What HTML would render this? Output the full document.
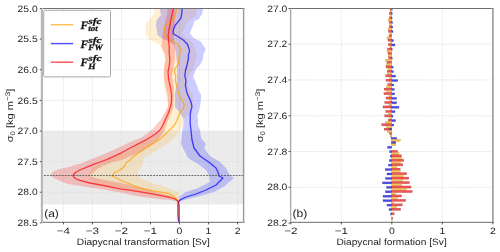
<!DOCTYPE html><html><head><meta charset="utf-8"><style>html,body{margin:0;padding:0;background:#fff;overflow:hidden}body{position:relative;width:500px;height:252px}svg{display:block;position:absolute;left:0;top:0}.fg{will-change:transform}text{text-rendering:geometricPrecision}</style></head><body><svg width="500" height="252" viewBox="0 0 500 252">
<rect x="0" y="0" width="500" height="252" fill="#fff"/>
<defs><clipPath id="ca"><rect x="41.5" y="8.4" width="202.1" height="213.6"/></clipPath><clipPath id="cb"><rect x="290.8" y="8.4" width="202.0" height="213.6"/></clipPath></defs>
<g clip-path="url(#ca)">
<rect x="41.5" y="131.2" width="202.1" height="73.20" fill="#ebebeb"/>
<line x1="63.38" y1="8.4" x2="63.38" y2="222.0" stroke="#dcdcdc" stroke-width="0.7" stroke-dasharray="1.8,1"/>
<line x1="92.41" y1="8.4" x2="92.41" y2="222.0" stroke="#dcdcdc" stroke-width="0.7" stroke-dasharray="1.8,1"/>
<line x1="121.44" y1="8.4" x2="121.44" y2="222.0" stroke="#dcdcdc" stroke-width="0.7" stroke-dasharray="1.8,1"/>
<line x1="150.47" y1="8.4" x2="150.47" y2="222.0" stroke="#dcdcdc" stroke-width="0.7" stroke-dasharray="1.8,1"/>
<line x1="179.50" y1="8.4" x2="179.50" y2="222.0" stroke="#dcdcdc" stroke-width="0.7" stroke-dasharray="1.8,1"/>
<line x1="208.53" y1="8.4" x2="208.53" y2="222.0" stroke="#dcdcdc" stroke-width="0.7" stroke-dasharray="1.8,1"/>
<line x1="237.56" y1="8.4" x2="237.56" y2="222.0" stroke="#dcdcdc" stroke-width="0.7" stroke-dasharray="1.8,1"/>
<line x1="41.5" y1="39.12" x2="243.6" y2="39.12" stroke="#dcdcdc" stroke-width="0.7" stroke-dasharray="1.8,1"/>
<line x1="41.5" y1="69.75" x2="243.6" y2="69.75" stroke="#dcdcdc" stroke-width="0.7" stroke-dasharray="1.8,1"/>
<line x1="41.5" y1="100.38" x2="243.6" y2="100.38" stroke="#dcdcdc" stroke-width="0.7" stroke-dasharray="1.8,1"/>
<line x1="41.5" y1="131.00" x2="243.6" y2="131.00" stroke="#dcdcdc" stroke-width="0.7" stroke-dasharray="1.8,1"/>
<line x1="41.5" y1="161.62" x2="243.6" y2="161.62" stroke="#dcdcdc" stroke-width="0.7" stroke-dasharray="1.8,1"/>
<line x1="41.5" y1="192.25" x2="243.6" y2="192.25" stroke="#dcdcdc" stroke-width="0.7" stroke-dasharray="1.8,1"/>
<path d="M154.0,8.4 L153.3,15.0 L148.4,20.0 L145.6,25.0 L145.6,30.0 L145.6,35.0 L150.0,40.0 L153.6,42.0 L160.0,45.0 L162.0,50.0 L164.0,55.0 L165.0,60.0 L164.0,65.0 L163.8,77.0 L163.8,85.0 L166.0,95.0 L167.0,101.0 L168.0,107.0 L166.0,113.0 L164.0,119.0 L162.0,125.0 L161.5,130.0 L157.5,134.0 L152.4,137.2 L147.0,140.4 L141.6,143.2 L137.0,145.6 L132.0,148.0 L127.2,150.7 L122.4,153.4 L115.8,156.4 L109.2,159.4 L102.0,162.0 L97.0,164.2 L92.0,168.0 L90.0,172.0 L88.0,176.0 L91.0,180.0 L97.0,183.0 L110.0,186.0 L126.0,189.0 L141.0,192.0 L156.0,195.0 L170.0,197.5 L177.0,200.0 L178.8,202.0 L179.0,203.0 L179.5,196.0 L178.5,192.0 L170.0,188.8 L160.0,185.0 L154.0,183.5 L148.0,181.5 L142.0,179.0 L139.2,176.6 L138.0,172.0 L142.0,166.0 L144.0,158.0 L154.0,152.0 L170.0,142.0 L176.0,136.0 L180.0,130.0 L183.6,125.0 L183.6,119.0 L189.6,114.0 L192.0,108.0 L192.6,101.0 L193.2,95.0 L189.0,89.0 L187.2,82.0 L188.4,77.0 L192.0,71.0 L194.4,65.0 L195.6,60.2 L196.8,53.0 L195.0,48.2 L194.0,46.0 L190.9,41.3 L186.1,38.2 L182.1,33.4 L185.3,27.0 L187.0,22.3 L195.6,16.0 L197.2,10.4 L197.2,8.4Z" fill="#ffa500" fill-opacity="0.17"/>
<path d="M159.6,8.4 L161.0,15.0 L156.8,20.0 L156.0,25.0 L156.8,30.0 L157.5,35.0 L162.0,38.6 L168.0,41.0 L174.0,45.0 L176.0,53.0 L177.0,65.0 L177.0,77.0 L175.8,89.0 L174.6,95.0 L175.0,101.0 L175.0,107.0 L180.0,113.0 L183.6,119.0 L183.6,125.0 L182.4,130.0 L181.0,144.0 L183.0,148.0 L188.0,158.0 L198.0,164.0 L206.0,170.0 L209.0,176.0 L210.0,182.0 L198.0,188.0 L186.0,192.0 L180.0,196.0 L179.0,200.0 L178.8,202.0 L179.5,202.0 L184.0,200.0 L200.0,196.0 L214.0,192.0 L225.0,186.0 L228.0,183.0 L232.0,180.0 L234.0,178.0 L231.0,176.0 L228.5,173.0 L226.0,168.0 L220.0,162.0 L210.0,156.0 L204.0,148.0 L206.0,144.0 L201.0,138.0 L200.0,130.0 L198.0,125.0 L198.0,120.2 L197.4,115.4 L199.2,110.6 L200.4,104.6 L201.0,98.6 L201.0,95.0 L198.0,89.0 L195.6,81.8 L193.2,77.0 L195.6,69.8 L200.0,65.0 L203.0,59.0 L203.4,54.2 L205.8,49.4 L203.6,46.0 L200.4,41.3 L194.0,38.2 L190.0,33.4 L190.9,30.2 L193.3,25.5 L194.0,21.5 L198.8,19.1 L202.0,14.3 L202.8,10.4 L202.8,8.4Z" fill="#0000ff" fill-opacity="0.2"/>
<path d="M167.5,8.4 L167.0,15.0 L165.5,20.0 L164.5,25.0 L163.5,30.0 L162.5,35.0 L162.0,41.0 L161.4,47.0 L164.4,53.0 L165.6,59.0 L164.4,65.0 L163.8,72.0 L163.8,77.0 L165.6,87.0 L167.5,95.0 L168.0,101.0 L168.0,107.0 L164.4,113.0 L160.4,120.0 L156.0,125.0 L151.6,130.0 L142.0,137.2 L130.0,142.0 L120.4,146.8 L107.2,152.8 L100.0,155.8 L91.6,159.0 L82.0,163.0 L70.0,166.4 L60.0,169.0 L52.0,172.0 L51.0,176.0 L54.0,178.0 L60.0,181.0 L68.0,184.0 L80.0,186.0 L100.0,189.0 L120.0,192.6 L139.0,196.5 L158.0,199.0 L170.0,200.0 L176.0,201.0 L178.5,203.0 L179.0,203.0 L179.0,201.0 L176.0,198.0 L168.0,195.0 L156.0,192.0 L142.0,188.0 L126.0,184.0 L105.0,180.0 L95.0,178.0 L90.0,176.0 L94.0,172.0 L97.6,168.8 L103.6,165.8 L112.0,162.2 L121.6,160.0 L136.0,154.0 L144.4,149.8 L152.8,144.4 L160.0,137.2 L165.0,130.0 L166.5,125.0 L168.0,120.0 L171.6,113.0 L173.4,107.0 L173.4,101.0 L174.0,95.0 L174.0,87.0 L172.2,77.0 L172.8,72.0 L174.0,65.0 L175.0,59.0 L175.2,53.0 L175.0,47.0 L174.0,41.0 L173.5,35.0 L174.0,30.0 L174.5,25.0 L175.0,20.0 L175.5,15.0 L175.0,8.4Z" fill="#ff0000" fill-opacity="0.2"/>
<path d="M176.8,8.4 L175.6,13.4 L174.4,18.2 L169.6,23.0 L164.8,26.6 L163.6,32.6 L164.4,35.0 L168.0,38.6 L172.8,41.0 L177.6,44.6 L181.2,49.4 L180.0,53.0 L178.8,56.6 L179.4,60.2 L177.5,65.0 L175.2,68.6 L174.6,72.2 L175.8,75.8 L175.2,80.6 L177.6,89.0 L179.0,95.0 L181.8,99.8 L184.2,104.6 L183.6,108.2 L180.6,111.8 L178.8,115.4 L177.0,120.2 L174.6,125.0 L170.0,129.6 L164.0,135.6 L158.0,140.4 L152.0,144.0 L144.8,148.8 L140.0,152.0 L134.0,156.0 L130.0,160.0 L126.0,163.0 L124.0,167.0 L120.0,170.0 L114.0,173.0 L112.0,176.0 L116.0,177.5 L120.0,180.0 L127.7,183.0 L136.6,186.9 L152.0,190.7 L168.6,193.3 L173.8,196.5 L177.0,199.7 L178.5,202.0 L178.8,222.0" fill="none" stroke="#ffa500" stroke-opacity="0.75" stroke-width="1.3" stroke-linejoin="round"/>
<path d="M182.2,8.4 L181.6,14.6 L181.0,18.2 L178.0,21.8 L175.0,25.5 L173.2,30.2 L173.2,33.8 L176.6,35.8 L183.0,39.7 L187.7,44.5 L188.4,47.0 L189.6,50.6 L188.4,55.4 L188.4,59.0 L187.0,65.0 L185.4,71.0 L184.8,75.8 L186.0,80.6 L185.4,85.4 L186.6,91.4 L187.8,95.0 L189.6,98.6 L191.4,103.4 L192.0,107.0 L190.8,110.6 L190.2,115.4 L190.2,120.2 L190.3,125.0 L191.0,130.0 L192.0,140.0 L194.0,148.0 L200.0,156.0 L210.0,163.0 L216.0,168.0 L218.0,172.0 L219.0,176.0 L223.0,178.0 L216.0,185.0 L206.0,190.0 L196.0,194.0 L186.0,197.0 L180.0,200.0 L178.3,202.0 L177.9,205.0 L177.9,215.0 L178.7,222.0" fill="none" stroke="#0000ff" stroke-opacity="0.7" stroke-width="1.3" stroke-linejoin="round"/>
<path d="M173.4,8.4 L172.0,15.0 L170.8,20.0 L170.0,25.0 L169.0,30.0 L168.2,35.0 L168.6,41.0 L169.2,47.0 L169.2,53.0 L169.8,59.0 L169.4,65.0 L168.0,72.0 L168.6,79.0 L170.4,87.0 L171.6,95.0 L171.6,101.0 L170.4,107.0 L168.0,114.0 L165.6,119.0 L163.0,125.0 L160.0,130.0 L155.5,134.0 L150.4,137.2 L145.0,140.4 L139.6,143.2 L135.0,145.6 L130.0,148.0 L125.2,150.7 L120.4,153.4 L113.8,156.4 L107.2,159.4 L100.0,162.0 L94.0,164.2 L85.6,167.6 L80.0,170.0 L75.5,172.5 L73.0,175.5 L74.0,177.5 L77.0,179.3 L80.0,180.4 L90.0,183.0 L106.0,186.0 L120.0,188.8 L132.8,190.7 L152.0,193.9 L168.6,197.1 L175.0,199.0 L177.6,201.0 L178.8,203.0 L179.3,206.0 L179.3,222.0" fill="none" stroke="#ff0000" stroke-opacity="0.7" stroke-width="1.3" stroke-linejoin="round"/>
<line x1="41.5" y1="175.5" x2="243.6" y2="175.5" stroke="#4a4a4a" stroke-width="0.8" stroke-dasharray="1.9,1.05" stroke-dashoffset="0.5"/>
</g>
<g clip-path="url(#cb)">
<line x1="290.80" y1="8.4" x2="290.80" y2="222.0" stroke="#dcdcdc" stroke-width="0.7" stroke-dasharray="1.8,1"/>
<line x1="341.30" y1="8.4" x2="341.30" y2="222.0" stroke="#dcdcdc" stroke-width="0.7" stroke-dasharray="1.8,1"/>
<line x1="391.80" y1="8.4" x2="391.80" y2="222.0" stroke="#dcdcdc" stroke-width="0.7" stroke-dasharray="1.8,1"/>
<line x1="442.30" y1="8.4" x2="442.30" y2="222.0" stroke="#dcdcdc" stroke-width="0.7" stroke-dasharray="1.8,1"/>
<line x1="492.80" y1="8.4" x2="492.80" y2="222.0" stroke="#dcdcdc" stroke-width="0.7" stroke-dasharray="1.8,1"/>
<line x1="290.8" y1="44.21" x2="492.8" y2="44.21" stroke="#dcdcdc" stroke-width="0.7" stroke-dasharray="1.8,1"/>
<line x1="290.8" y1="79.98" x2="492.8" y2="79.98" stroke="#dcdcdc" stroke-width="0.7" stroke-dasharray="1.8,1"/>
<line x1="290.8" y1="115.76" x2="492.8" y2="115.76" stroke="#dcdcdc" stroke-width="0.7" stroke-dasharray="1.8,1"/>
<line x1="290.8" y1="151.53" x2="492.8" y2="151.53" stroke="#dcdcdc" stroke-width="0.7" stroke-dasharray="1.8,1"/>
<line x1="290.8" y1="187.30" x2="492.8" y2="187.30" stroke="#dcdcdc" stroke-width="0.7" stroke-dasharray="1.8,1"/>
<rect x="390.30" y="7.95" width="1.50" height="2.20" fill="#f05454" stroke="#902020" stroke-width="0.35" stroke-opacity="0.6"/>
<rect x="391.80" y="8.35" width="0.50" height="2.00" fill="#4a4aea" stroke="#202090" stroke-width="0.35" stroke-opacity="0.6"/>
<rect x="390.00" y="10.15" width="1.80" height="2.25" fill="#f8c262" stroke="#a07020" stroke-width="0.35" stroke-opacity="0.6"/>
<rect x="389.20" y="12.40" width="2.60" height="2.20" fill="#f05454" stroke="#902020" stroke-width="0.35" stroke-opacity="0.6"/>
<rect x="391.80" y="12.80" width="0.50" height="2.00" fill="#4a4aea" stroke="#202090" stroke-width="0.35" stroke-opacity="0.6"/>
<rect x="390.30" y="14.60" width="1.50" height="2.25" fill="#f8c262" stroke="#a07020" stroke-width="0.35" stroke-opacity="0.6"/>
<rect x="389.30" y="16.85" width="2.50" height="2.20" fill="#f05454" stroke="#902020" stroke-width="0.35" stroke-opacity="0.6"/>
<rect x="391.80" y="17.25" width="0.30" height="2.00" fill="#4a4aea" stroke="#202090" stroke-width="0.35" stroke-opacity="0.6"/>
<rect x="388.00" y="19.05" width="3.80" height="2.25" fill="#f8c262" stroke="#a07020" stroke-width="0.35" stroke-opacity="0.6"/>
<rect x="389.30" y="21.30" width="2.50" height="2.20" fill="#f05454" stroke="#902020" stroke-width="0.35" stroke-opacity="0.6"/>
<rect x="391.80" y="21.70" width="0.80" height="2.00" fill="#4a4aea" stroke="#202090" stroke-width="0.35" stroke-opacity="0.6"/>
<rect x="389.80" y="23.50" width="2.00" height="2.25" fill="#f8c262" stroke="#a07020" stroke-width="0.35" stroke-opacity="0.6"/>
<rect x="389.30" y="25.75" width="2.50" height="2.20" fill="#f05454" stroke="#902020" stroke-width="0.35" stroke-opacity="0.6"/>
<rect x="391.80" y="26.15" width="1.00" height="2.00" fill="#4a4aea" stroke="#202090" stroke-width="0.35" stroke-opacity="0.6"/>
<rect x="388.00" y="27.95" width="3.80" height="2.25" fill="#f8c262" stroke="#a07020" stroke-width="0.35" stroke-opacity="0.6"/>
<rect x="388.50" y="30.20" width="3.30" height="2.20" fill="#f05454" stroke="#902020" stroke-width="0.35" stroke-opacity="0.6"/>
<rect x="391.80" y="30.60" width="1.20" height="2.00" fill="#4a4aea" stroke="#202090" stroke-width="0.35" stroke-opacity="0.6"/>
<rect x="390.00" y="32.40" width="1.80" height="2.25" fill="#f8c262" stroke="#a07020" stroke-width="0.35" stroke-opacity="0.6"/>
<rect x="389.00" y="34.65" width="2.80" height="2.20" fill="#f05454" stroke="#902020" stroke-width="0.35" stroke-opacity="0.6"/>
<rect x="387.00" y="36.85" width="4.80" height="2.25" fill="#f8c262" stroke="#a07020" stroke-width="0.35" stroke-opacity="0.6"/>
<rect x="388.00" y="39.10" width="3.80" height="2.20" fill="#f05454" stroke="#902020" stroke-width="0.35" stroke-opacity="0.6"/>
<rect x="391.80" y="39.50" width="1.70" height="2.00" fill="#4a4aea" stroke="#202090" stroke-width="0.35" stroke-opacity="0.6"/>
<rect x="390.50" y="41.30" width="1.30" height="2.25" fill="#f8c262" stroke="#a07020" stroke-width="0.35" stroke-opacity="0.6"/>
<rect x="388.20" y="43.55" width="3.60" height="2.20" fill="#f05454" stroke="#902020" stroke-width="0.35" stroke-opacity="0.6"/>
<rect x="391.80" y="43.95" width="3.20" height="2.00" fill="#4a4aea" stroke="#202090" stroke-width="0.35" stroke-opacity="0.6"/>
<rect x="390.00" y="45.75" width="1.80" height="2.25" fill="#f8c262" stroke="#a07020" stroke-width="0.35" stroke-opacity="0.6"/>
<rect x="387.50" y="48.00" width="4.30" height="2.20" fill="#f05454" stroke="#902020" stroke-width="0.35" stroke-opacity="0.6"/>
<rect x="391.80" y="48.40" width="0.50" height="2.00" fill="#4a4aea" stroke="#202090" stroke-width="0.35" stroke-opacity="0.6"/>
<rect x="387.00" y="50.20" width="4.80" height="2.25" fill="#f8c262" stroke="#a07020" stroke-width="0.35" stroke-opacity="0.6"/>
<rect x="388.00" y="52.45" width="3.80" height="2.20" fill="#f05454" stroke="#902020" stroke-width="0.35" stroke-opacity="0.6"/>
<rect x="388.20" y="54.65" width="3.60" height="2.25" fill="#f8c262" stroke="#a07020" stroke-width="0.35" stroke-opacity="0.6"/>
<rect x="388.70" y="56.90" width="3.10" height="2.20" fill="#f05454" stroke="#902020" stroke-width="0.35" stroke-opacity="0.6"/>
<rect x="391.80" y="57.30" width="0.50" height="2.00" fill="#4a4aea" stroke="#202090" stroke-width="0.35" stroke-opacity="0.6"/>
<rect x="385.40" y="59.10" width="6.40" height="2.25" fill="#f8c262" stroke="#a07020" stroke-width="0.35" stroke-opacity="0.6"/>
<rect x="387.00" y="61.35" width="4.80" height="2.20" fill="#f05454" stroke="#902020" stroke-width="0.35" stroke-opacity="0.6"/>
<rect x="386.30" y="63.55" width="5.50" height="2.25" fill="#f8c262" stroke="#a07020" stroke-width="0.35" stroke-opacity="0.6"/>
<rect x="386.00" y="65.80" width="5.80" height="2.20" fill="#f05454" stroke="#902020" stroke-width="0.35" stroke-opacity="0.6"/>
<rect x="391.80" y="66.20" width="1.40" height="2.00" fill="#4a4aea" stroke="#202090" stroke-width="0.35" stroke-opacity="0.6"/>
<rect x="388.20" y="68.00" width="3.60" height="2.25" fill="#f8c262" stroke="#a07020" stroke-width="0.35" stroke-opacity="0.6"/>
<rect x="387.20" y="70.25" width="4.60" height="2.20" fill="#f05454" stroke="#902020" stroke-width="0.35" stroke-opacity="0.6"/>
<rect x="391.80" y="70.65" width="1.70" height="2.00" fill="#4a4aea" stroke="#202090" stroke-width="0.35" stroke-opacity="0.6"/>
<rect x="387.50" y="72.45" width="4.30" height="2.25" fill="#f8c262" stroke="#a07020" stroke-width="0.35" stroke-opacity="0.6"/>
<rect x="385.80" y="74.70" width="6.00" height="2.20" fill="#f05454" stroke="#902020" stroke-width="0.35" stroke-opacity="0.6"/>
<rect x="391.80" y="75.10" width="3.80" height="2.00" fill="#4a4aea" stroke="#202090" stroke-width="0.35" stroke-opacity="0.6"/>
<rect x="389.40" y="76.90" width="2.40" height="2.25" fill="#f8c262" stroke="#a07020" stroke-width="0.35" stroke-opacity="0.6"/>
<rect x="386.00" y="79.15" width="5.80" height="2.20" fill="#f05454" stroke="#902020" stroke-width="0.35" stroke-opacity="0.6"/>
<rect x="391.80" y="79.55" width="6.00" height="2.00" fill="#4a4aea" stroke="#202090" stroke-width="0.35" stroke-opacity="0.6"/>
<rect x="389.80" y="81.35" width="2.00" height="2.25" fill="#f8c262" stroke="#a07020" stroke-width="0.35" stroke-opacity="0.6"/>
<rect x="387.80" y="83.60" width="4.00" height="2.20" fill="#f05454" stroke="#902020" stroke-width="0.35" stroke-opacity="0.6"/>
<rect x="391.80" y="84.00" width="2.00" height="2.00" fill="#4a4aea" stroke="#202090" stroke-width="0.35" stroke-opacity="0.6"/>
<rect x="386.60" y="85.80" width="5.20" height="2.25" fill="#f8c262" stroke="#a07020" stroke-width="0.35" stroke-opacity="0.6"/>
<rect x="384.20" y="88.05" width="7.60" height="2.20" fill="#f05454" stroke="#902020" stroke-width="0.35" stroke-opacity="0.6"/>
<rect x="391.80" y="88.45" width="2.60" height="2.00" fill="#4a4aea" stroke="#202090" stroke-width="0.35" stroke-opacity="0.6"/>
<rect x="386.60" y="90.25" width="5.20" height="2.25" fill="#f8c262" stroke="#a07020" stroke-width="0.35" stroke-opacity="0.6"/>
<rect x="383.90" y="92.50" width="7.90" height="2.20" fill="#f05454" stroke="#902020" stroke-width="0.35" stroke-opacity="0.6"/>
<rect x="391.80" y="92.90" width="2.90" height="2.00" fill="#4a4aea" stroke="#202090" stroke-width="0.35" stroke-opacity="0.6"/>
<rect x="389.00" y="94.70" width="2.80" height="2.25" fill="#f8c262" stroke="#a07020" stroke-width="0.35" stroke-opacity="0.6"/>
<rect x="386.00" y="96.95" width="5.80" height="2.20" fill="#f05454" stroke="#902020" stroke-width="0.35" stroke-opacity="0.6"/>
<rect x="391.80" y="97.35" width="4.80" height="2.00" fill="#4a4aea" stroke="#202090" stroke-width="0.35" stroke-opacity="0.6"/>
<rect x="389.60" y="99.15" width="2.20" height="2.25" fill="#f8c262" stroke="#a07020" stroke-width="0.35" stroke-opacity="0.6"/>
<rect x="384.80" y="101.40" width="7.00" height="2.20" fill="#f05454" stroke="#902020" stroke-width="0.35" stroke-opacity="0.6"/>
<rect x="391.80" y="101.80" width="4.80" height="2.00" fill="#4a4aea" stroke="#202090" stroke-width="0.35" stroke-opacity="0.6"/>
<rect x="389.00" y="103.60" width="2.80" height="2.25" fill="#f8c262" stroke="#a07020" stroke-width="0.35" stroke-opacity="0.6"/>
<rect x="383.00" y="105.85" width="8.80" height="2.20" fill="#f05454" stroke="#902020" stroke-width="0.35" stroke-opacity="0.6"/>
<rect x="391.80" y="106.25" width="7.20" height="2.00" fill="#4a4aea" stroke="#202090" stroke-width="0.35" stroke-opacity="0.6"/>
<rect x="390.80" y="108.05" width="1.00" height="2.25" fill="#f8c262" stroke="#a07020" stroke-width="0.35" stroke-opacity="0.6"/>
<rect x="385.80" y="110.30" width="6.00" height="2.20" fill="#f05454" stroke="#902020" stroke-width="0.35" stroke-opacity="0.6"/>
<rect x="391.80" y="110.70" width="3.20" height="2.00" fill="#4a4aea" stroke="#202090" stroke-width="0.35" stroke-opacity="0.6"/>
<rect x="388.40" y="112.50" width="3.40" height="2.25" fill="#f8c262" stroke="#a07020" stroke-width="0.35" stroke-opacity="0.6"/>
<rect x="384.80" y="114.75" width="7.00" height="2.20" fill="#f05454" stroke="#902020" stroke-width="0.35" stroke-opacity="0.6"/>
<rect x="391.80" y="115.15" width="1.20" height="2.00" fill="#4a4aea" stroke="#202090" stroke-width="0.35" stroke-opacity="0.6"/>
<rect x="389.40" y="116.95" width="2.40" height="2.25" fill="#f8c262" stroke="#a07020" stroke-width="0.35" stroke-opacity="0.6"/>
<rect x="388.20" y="119.20" width="3.60" height="2.20" fill="#f05454" stroke="#902020" stroke-width="0.35" stroke-opacity="0.6"/>
<rect x="391.80" y="119.60" width="3.80" height="2.00" fill="#4a4aea" stroke="#202090" stroke-width="0.35" stroke-opacity="0.6"/>
<rect x="385.40" y="121.40" width="6.40" height="2.25" fill="#f8c262" stroke="#a07020" stroke-width="0.35" stroke-opacity="0.6"/>
<rect x="381.80" y="123.65" width="10.00" height="2.20" fill="#f05454" stroke="#902020" stroke-width="0.35" stroke-opacity="0.6"/>
<rect x="391.80" y="124.05" width="2.00" height="2.00" fill="#4a4aea" stroke="#202090" stroke-width="0.35" stroke-opacity="0.6"/>
<rect x="386.60" y="125.85" width="5.20" height="2.25" fill="#f8c262" stroke="#a07020" stroke-width="0.35" stroke-opacity="0.6"/>
<rect x="384.20" y="128.10" width="7.60" height="2.20" fill="#f05454" stroke="#902020" stroke-width="0.35" stroke-opacity="0.6"/>
<rect x="389.00" y="128.50" width="2.80" height="2.00" fill="#4a4aea" stroke="#202090" stroke-width="0.35" stroke-opacity="0.6"/>
<rect x="387.20" y="130.30" width="4.60" height="2.25" fill="#f8c262" stroke="#a07020" stroke-width="0.35" stroke-opacity="0.6"/>
<rect x="389.60" y="132.55" width="2.20" height="2.20" fill="#f05454" stroke="#902020" stroke-width="0.35" stroke-opacity="0.6"/>
<rect x="390.20" y="134.75" width="1.60" height="2.25" fill="#f8c262" stroke="#a07020" stroke-width="0.35" stroke-opacity="0.6"/>
<rect x="391.10" y="137.00" width="0.70" height="2.20" fill="#f05454" stroke="#902020" stroke-width="0.35" stroke-opacity="0.6"/>
<rect x="391.80" y="137.40" width="5.00" height="2.00" fill="#4a4aea" stroke="#202090" stroke-width="0.35" stroke-opacity="0.6"/>
<rect x="391.80" y="139.20" width="8.60" height="2.25" fill="#f8c262" stroke="#a07020" stroke-width="0.35" stroke-opacity="0.6"/>
<rect x="391.80" y="141.45" width="3.80" height="2.20" fill="#f05454" stroke="#902020" stroke-width="0.35" stroke-opacity="0.6"/>
<rect x="391.80" y="141.85" width="3.80" height="2.00" fill="#4a4aea" stroke="#202090" stroke-width="0.35" stroke-opacity="0.6"/>
<rect x="391.80" y="143.65" width="3.80" height="2.25" fill="#f8c262" stroke="#a07020" stroke-width="0.35" stroke-opacity="0.6"/>
<rect x="387.50" y="146.30" width="4.30" height="2.00" fill="#4a4aea" stroke="#202090" stroke-width="0.35" stroke-opacity="0.6"/>
<rect x="391.80" y="150.35" width="5.60" height="2.20" fill="#f05454" stroke="#902020" stroke-width="0.35" stroke-opacity="0.6"/>
<rect x="389.60" y="150.75" width="2.20" height="2.00" fill="#4a4aea" stroke="#202090" stroke-width="0.35" stroke-opacity="0.6"/>
<rect x="391.80" y="152.55" width="7.20" height="2.25" fill="#f8c262" stroke="#a07020" stroke-width="0.35" stroke-opacity="0.6"/>
<rect x="391.80" y="154.80" width="9.60" height="2.20" fill="#f05454" stroke="#902020" stroke-width="0.35" stroke-opacity="0.6"/>
<rect x="390.20" y="155.20" width="1.60" height="2.00" fill="#4a4aea" stroke="#202090" stroke-width="0.35" stroke-opacity="0.6"/>
<rect x="391.80" y="157.00" width="9.80" height="2.25" fill="#f8c262" stroke="#a07020" stroke-width="0.35" stroke-opacity="0.6"/>
<rect x="391.80" y="159.25" width="12.00" height="2.20" fill="#f05454" stroke="#902020" stroke-width="0.35" stroke-opacity="0.6"/>
<rect x="389.40" y="159.65" width="2.40" height="2.00" fill="#4a4aea" stroke="#202090" stroke-width="0.35" stroke-opacity="0.6"/>
<rect x="391.80" y="161.45" width="8.60" height="2.25" fill="#f8c262" stroke="#a07020" stroke-width="0.35" stroke-opacity="0.6"/>
<rect x="391.80" y="163.70" width="11.00" height="2.20" fill="#f05454" stroke="#902020" stroke-width="0.35" stroke-opacity="0.6"/>
<rect x="388.40" y="164.10" width="3.40" height="2.00" fill="#4a4aea" stroke="#202090" stroke-width="0.35" stroke-opacity="0.6"/>
<rect x="391.80" y="165.90" width="5.00" height="2.25" fill="#f8c262" stroke="#a07020" stroke-width="0.35" stroke-opacity="0.6"/>
<rect x="391.80" y="168.15" width="8.40" height="2.20" fill="#f05454" stroke="#902020" stroke-width="0.35" stroke-opacity="0.6"/>
<rect x="385.20" y="168.55" width="6.60" height="2.00" fill="#4a4aea" stroke="#202090" stroke-width="0.35" stroke-opacity="0.6"/>
<rect x="391.80" y="170.35" width="8.40" height="2.25" fill="#f8c262" stroke="#a07020" stroke-width="0.35" stroke-opacity="0.6"/>
<rect x="391.80" y="172.60" width="15.00" height="2.20" fill="#f05454" stroke="#902020" stroke-width="0.35" stroke-opacity="0.6"/>
<rect x="387.00" y="173.00" width="4.80" height="2.00" fill="#4a4aea" stroke="#202090" stroke-width="0.35" stroke-opacity="0.6"/>
<rect x="391.80" y="174.80" width="11.40" height="2.25" fill="#f8c262" stroke="#a07020" stroke-width="0.35" stroke-opacity="0.6"/>
<rect x="391.80" y="177.05" width="17.00" height="2.20" fill="#f05454" stroke="#902020" stroke-width="0.35" stroke-opacity="0.6"/>
<rect x="385.40" y="177.45" width="6.40" height="2.00" fill="#4a4aea" stroke="#202090" stroke-width="0.35" stroke-opacity="0.6"/>
<rect x="391.80" y="179.25" width="10.80" height="2.25" fill="#f8c262" stroke="#a07020" stroke-width="0.35" stroke-opacity="0.6"/>
<rect x="391.80" y="181.50" width="17.60" height="2.20" fill="#f05454" stroke="#902020" stroke-width="0.35" stroke-opacity="0.6"/>
<rect x="382.40" y="181.90" width="9.40" height="2.00" fill="#4a4aea" stroke="#202090" stroke-width="0.35" stroke-opacity="0.6"/>
<rect x="391.80" y="183.70" width="9.80" height="2.25" fill="#f8c262" stroke="#a07020" stroke-width="0.35" stroke-opacity="0.6"/>
<rect x="391.80" y="185.95" width="19.20" height="2.20" fill="#f05454" stroke="#902020" stroke-width="0.35" stroke-opacity="0.6"/>
<rect x="386.60" y="186.35" width="5.20" height="2.00" fill="#4a4aea" stroke="#202090" stroke-width="0.35" stroke-opacity="0.6"/>
<rect x="391.80" y="188.15" width="14.60" height="2.25" fill="#f8c262" stroke="#a07020" stroke-width="0.35" stroke-opacity="0.6"/>
<rect x="391.80" y="190.40" width="20.40" height="2.20" fill="#f05454" stroke="#902020" stroke-width="0.35" stroke-opacity="0.6"/>
<rect x="385.40" y="190.80" width="6.40" height="2.00" fill="#4a4aea" stroke="#202090" stroke-width="0.35" stroke-opacity="0.6"/>
<rect x="391.80" y="192.60" width="3.80" height="2.25" fill="#f8c262" stroke="#a07020" stroke-width="0.35" stroke-opacity="0.6"/>
<rect x="391.80" y="194.85" width="9.80" height="2.20" fill="#f05454" stroke="#902020" stroke-width="0.35" stroke-opacity="0.6"/>
<rect x="383.00" y="195.25" width="8.80" height="2.00" fill="#4a4aea" stroke="#202090" stroke-width="0.35" stroke-opacity="0.6"/>
<rect x="391.80" y="197.05" width="5.60" height="2.25" fill="#f8c262" stroke="#a07020" stroke-width="0.35" stroke-opacity="0.6"/>
<rect x="391.80" y="199.30" width="14.00" height="2.20" fill="#f05454" stroke="#902020" stroke-width="0.35" stroke-opacity="0.6"/>
<rect x="383.00" y="199.70" width="8.80" height="2.00" fill="#4a4aea" stroke="#202090" stroke-width="0.35" stroke-opacity="0.6"/>
<rect x="391.80" y="201.50" width="1.70" height="2.25" fill="#f8c262" stroke="#a07020" stroke-width="0.35" stroke-opacity="0.6"/>
<rect x="391.80" y="203.75" width="10.40" height="2.20" fill="#f05454" stroke="#902020" stroke-width="0.35" stroke-opacity="0.6"/>
<rect x="387.00" y="204.15" width="4.80" height="2.00" fill="#4a4aea" stroke="#202090" stroke-width="0.35" stroke-opacity="0.6"/>
<rect x="391.80" y="205.95" width="4.80" height="2.25" fill="#f8c262" stroke="#a07020" stroke-width="0.35" stroke-opacity="0.6"/>
<rect x="391.80" y="208.20" width="8.90" height="2.20" fill="#f05454" stroke="#902020" stroke-width="0.35" stroke-opacity="0.6"/>
<rect x="389.00" y="208.60" width="2.80" height="2.00" fill="#4a4aea" stroke="#202090" stroke-width="0.35" stroke-opacity="0.6"/>
<rect x="391.80" y="212.65" width="2.40" height="2.20" fill="#f05454" stroke="#902020" stroke-width="0.35" stroke-opacity="0.6"/>
<rect x="390.80" y="213.05" width="1.00" height="2.00" fill="#4a4aea" stroke="#202090" stroke-width="0.35" stroke-opacity="0.6"/>
<rect x="391.80" y="217.10" width="1.00" height="2.20" fill="#f05454" stroke="#902020" stroke-width="0.35" stroke-opacity="0.6"/>
<rect x="391.80" y="219.30" width="0.50" height="2.25" fill="#f8c262" stroke="#a07020" stroke-width="0.35" stroke-opacity="0.6"/>
</g>
<line x1="40.0" y1="8.5" x2="244.5" y2="8.5" stroke="#707070" stroke-width="1.1"/>
<line x1="40.9" y1="222.4" x2="244.5" y2="222.4" stroke="#888" stroke-width="1.1"/>
<line x1="289.3" y1="8.5" x2="493.7" y2="8.5" stroke="#707070" stroke-width="1.1"/>
<line x1="290.2" y1="222.4" x2="493.7" y2="222.4" stroke="#888" stroke-width="1.1"/>
<line x1="41.9" y1="8.0" x2="41.9" y2="222.9" stroke="#b8b8b8" stroke-width="2.2"/>
<line x1="243.6" y1="8.0" x2="243.6" y2="222.9" stroke="#999" stroke-width="1.4"/>
<line x1="290.6" y1="8.0" x2="290.6" y2="222.9" stroke="#aaa" stroke-width="1.3"/>
<line x1="492.9" y1="8.0" x2="492.9" y2="222.9" stroke="#999" stroke-width="1.6"/>
<rect x="43.7" y="10.3" width="66.8" height="66.6" rx="1.2" fill="#fff" fill-opacity="0.8" stroke="#a8a8a8" stroke-width="1"/>
<line x1="50.9" y1="24.7" x2="73.1" y2="24.7" stroke="#ffa500" stroke-opacity="0.7" stroke-width="1.4"/>
<line x1="50.9" y1="43.6" x2="73.1" y2="43.6" stroke="#0000ff" stroke-opacity="0.7" stroke-width="1.4"/>
<line x1="50.9" y1="62.2" x2="73.1" y2="62.2" stroke="#ff0000" stroke-opacity="0.7" stroke-width="1.4"/>
</svg>
<svg class="fg" width="500" height="252" viewBox="0 0 500 252">
<g style="font-family:&quot;Liberation Sans&quot;, sans-serif" fill="#222">
<line x1="63.38" y1="222.0" x2="63.38" y2="224.4" stroke="#444" stroke-width="0.9"/>
<text x="63.38" y="233.70" text-anchor="middle" font-size="9.2" textLength="13.30" lengthAdjust="spacingAndGlyphs" >−4</text>
<line x1="92.41" y1="222.0" x2="92.41" y2="224.4" stroke="#444" stroke-width="0.9"/>
<text x="92.41" y="233.70" text-anchor="middle" font-size="9.2" textLength="13.30" lengthAdjust="spacingAndGlyphs" >−3</text>
<line x1="121.44" y1="222.0" x2="121.44" y2="224.4" stroke="#444" stroke-width="0.9"/>
<text x="121.44" y="233.70" text-anchor="middle" font-size="9.2" textLength="13.30" lengthAdjust="spacingAndGlyphs" >−2</text>
<line x1="150.47" y1="222.0" x2="150.47" y2="224.4" stroke="#444" stroke-width="0.9"/>
<text x="150.47" y="233.70" text-anchor="middle" font-size="9.2" textLength="13.30" lengthAdjust="spacingAndGlyphs" >−1</text>
<line x1="179.50" y1="222.0" x2="179.50" y2="224.4" stroke="#444" stroke-width="0.9"/>
<text x="179.50" y="233.70" text-anchor="middle" font-size="9.2" textLength="5.80" lengthAdjust="spacingAndGlyphs" >0</text>
<line x1="208.53" y1="222.0" x2="208.53" y2="224.4" stroke="#444" stroke-width="0.9"/>
<text x="208.53" y="233.70" text-anchor="middle" font-size="9.2" textLength="5.80" lengthAdjust="spacingAndGlyphs" >1</text>
<line x1="237.56" y1="222.0" x2="237.56" y2="224.4" stroke="#444" stroke-width="0.9"/>
<text x="237.56" y="233.70" text-anchor="middle" font-size="9.2" textLength="5.80" lengthAdjust="spacingAndGlyphs" >2</text>
<line x1="39.8" y1="8.50" x2="41.5" y2="8.50" stroke="#444" stroke-width="0.9"/>
<text x="37.70" y="11.65" text-anchor="end" font-size="9.2" textLength="20.10" lengthAdjust="spacingAndGlyphs" >25.0</text>
<line x1="39.8" y1="39.12" x2="41.5" y2="39.12" stroke="#444" stroke-width="0.9"/>
<text x="37.70" y="42.27" text-anchor="end" font-size="9.2" textLength="20.10" lengthAdjust="spacingAndGlyphs" >25.5</text>
<line x1="39.8" y1="69.75" x2="41.5" y2="69.75" stroke="#444" stroke-width="0.9"/>
<text x="37.70" y="72.90" text-anchor="end" font-size="9.2" textLength="20.10" lengthAdjust="spacingAndGlyphs" >26.0</text>
<line x1="39.8" y1="100.38" x2="41.5" y2="100.38" stroke="#444" stroke-width="0.9"/>
<text x="37.70" y="103.53" text-anchor="end" font-size="9.2" textLength="20.10" lengthAdjust="spacingAndGlyphs" >26.5</text>
<line x1="39.8" y1="131.00" x2="41.5" y2="131.00" stroke="#444" stroke-width="0.9"/>
<text x="37.70" y="134.15" text-anchor="end" font-size="9.2" textLength="20.10" lengthAdjust="spacingAndGlyphs" >27.0</text>
<line x1="39.8" y1="161.62" x2="41.5" y2="161.62" stroke="#444" stroke-width="0.9"/>
<text x="37.70" y="164.78" text-anchor="end" font-size="9.2" textLength="20.10" lengthAdjust="spacingAndGlyphs" >27.5</text>
<line x1="39.8" y1="192.25" x2="41.5" y2="192.25" stroke="#444" stroke-width="0.9"/>
<text x="37.70" y="195.40" text-anchor="end" font-size="9.2" textLength="20.10" lengthAdjust="spacingAndGlyphs" >28.0</text>
<line x1="39.8" y1="222.88" x2="41.5" y2="222.88" stroke="#444" stroke-width="0.9"/>
<text x="37.70" y="226.03" text-anchor="end" font-size="9.2" textLength="20.10" lengthAdjust="spacingAndGlyphs" >28.5</text>
<line x1="290.80" y1="222.0" x2="290.80" y2="224.4" stroke="#444" stroke-width="0.9"/>
<text x="290.80" y="233.70" text-anchor="middle" font-size="9.2" textLength="13.30" lengthAdjust="spacingAndGlyphs" >−2</text>
<line x1="341.30" y1="222.0" x2="341.30" y2="224.4" stroke="#444" stroke-width="0.9"/>
<text x="341.30" y="233.70" text-anchor="middle" font-size="9.2" textLength="13.30" lengthAdjust="spacingAndGlyphs" >−1</text>
<line x1="391.80" y1="222.0" x2="391.80" y2="224.4" stroke="#444" stroke-width="0.9"/>
<text x="391.80" y="233.70" text-anchor="middle" font-size="9.2" textLength="5.80" lengthAdjust="spacingAndGlyphs" >0</text>
<line x1="442.30" y1="222.0" x2="442.30" y2="224.4" stroke="#444" stroke-width="0.9"/>
<text x="442.30" y="233.70" text-anchor="middle" font-size="9.2" textLength="5.80" lengthAdjust="spacingAndGlyphs" >1</text>
<line x1="492.80" y1="222.0" x2="492.80" y2="224.4" stroke="#444" stroke-width="0.9"/>
<text x="492.80" y="233.70" text-anchor="middle" font-size="9.2" textLength="5.80" lengthAdjust="spacingAndGlyphs" >2</text>
<line x1="288.5" y1="8.44" x2="290.5" y2="8.44" stroke="#444" stroke-width="0.9"/>
<text x="287.30" y="11.59" text-anchor="end" font-size="9.2" textLength="20.10" lengthAdjust="spacingAndGlyphs" >27.0</text>
<line x1="288.5" y1="44.21" x2="290.5" y2="44.21" stroke="#444" stroke-width="0.9"/>
<text x="287.30" y="47.36" text-anchor="end" font-size="9.2" textLength="20.10" lengthAdjust="spacingAndGlyphs" >27.2</text>
<line x1="288.5" y1="79.98" x2="290.5" y2="79.98" stroke="#444" stroke-width="0.9"/>
<text x="287.30" y="83.13" text-anchor="end" font-size="9.2" textLength="20.10" lengthAdjust="spacingAndGlyphs" >27.4</text>
<line x1="288.5" y1="115.76" x2="290.5" y2="115.76" stroke="#444" stroke-width="0.9"/>
<text x="287.30" y="118.91" text-anchor="end" font-size="9.2" textLength="20.10" lengthAdjust="spacingAndGlyphs" >27.6</text>
<line x1="288.5" y1="151.53" x2="290.5" y2="151.53" stroke="#444" stroke-width="0.9"/>
<text x="287.30" y="154.68" text-anchor="end" font-size="9.2" textLength="20.10" lengthAdjust="spacingAndGlyphs" >27.8</text>
<line x1="288.5" y1="187.30" x2="290.5" y2="187.30" stroke="#444" stroke-width="0.9"/>
<text x="287.30" y="190.45" text-anchor="end" font-size="9.2" textLength="20.10" lengthAdjust="spacingAndGlyphs" >28.0</text>
<line x1="288.5" y1="223.07" x2="290.5" y2="223.07" stroke="#444" stroke-width="0.9"/>
<text x="287.30" y="226.22" text-anchor="end" font-size="9.2" textLength="20.10" lengthAdjust="spacingAndGlyphs" >28.2</text>
<text x="143.30" y="244.80" text-anchor="middle" font-size="9.2" textLength="133.00" lengthAdjust="spacingAndGlyphs" >Diapycnal transformation [Sv]</text>
<text x="391.60" y="244.80" text-anchor="middle" font-size="9.2" textLength="110.30" lengthAdjust="spacingAndGlyphs" >Diapycnal formation [Sv]</text>
<text x="44.20" y="217.20" text-anchor="start" font-size="10.6" textLength="14.60" lengthAdjust="spacingAndGlyphs" >(a)</text>
<text x="292.50" y="217.20" text-anchor="start" font-size="10.6" textLength="14.80" lengthAdjust="spacingAndGlyphs" >(b)</text>
<text transform="translate(12.6,115.5) rotate(-90) scale(1.2,1)" text-anchor="middle" font-size="9.2">σ<tspan font-size="6.6" dy="2.0">0</tspan><tspan dy="-2.0"> [kg m</tspan><tspan font-size="6.8" dy="-2.7">−3</tspan><tspan dy="2.7">]</tspan></text>
<text transform="translate(262.6,115.5) rotate(-90) scale(1.2,1)" text-anchor="middle" font-size="9.2">σ<tspan font-size="6.6" dy="2.0">0</tspan><tspan dy="-2.0"> [kg m</tspan><tspan font-size="6.8" dy="-2.7">−3</tspan><tspan dy="2.7">]</tspan></text>
</g>
<g style="font-family:&quot;Liberation Serif&quot;, serif" font-weight="bold" font-style="italic" fill="#111" stroke="#111" stroke-width="0.25">
<text x="80.6" y="28.9" font-size="11.4">F</text>
<text x="88.2" y="23.9" font-size="8.6" textLength="13.6" lengthAdjust="spacingAndGlyphs">sfc</text>
<text x="88.3" y="31.299999999999997" font-size="8.2" textLength="9.4" lengthAdjust="spacingAndGlyphs">tot</text>
<text x="80.6" y="47.6" font-size="11.4">F</text>
<text x="88.2" y="42.6" font-size="8.6" textLength="13.6" lengthAdjust="spacingAndGlyphs">sfc</text>
<text x="88.3" y="50.0" font-size="8.2" textLength="14.4" lengthAdjust="spacingAndGlyphs">FW</text>
<text x="80.6" y="66.4" font-size="11.4">F</text>
<text x="88.2" y="61.400000000000006" font-size="8.6" textLength="13.6" lengthAdjust="spacingAndGlyphs">sfc</text>
<text x="88.3" y="68.80000000000001" font-size="8.2" textLength="7.4" lengthAdjust="spacingAndGlyphs">H</text>
</g>
</svg></body></html>
